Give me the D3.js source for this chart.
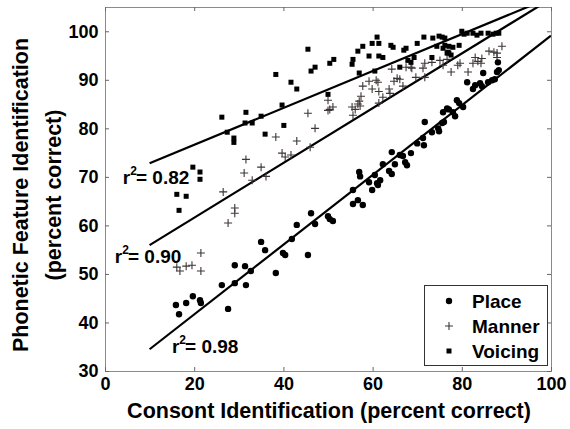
<!DOCTYPE html>
<html>
<head>
<meta charset="utf-8">
<script src="https://cdn.jsdelivr.net/npm/d3@7"></script>
<style>
  body { margin: 0; background: #fff; }
  svg { font-family: "Liberation Sans", Arial, sans-serif; font-weight: bold; }
</style>
</head>
<body>
<div id="chart"></div>
<script>
"use strict";

// Place (filled circles)
const placeX = [15.9, 16.6, 18.2, 19.7, 21.3, 21.5, 27.6, 26.2, 29.1, 29.1, 31.6, 31.4, 32.7, 35.0, 35.9, 38.3,
    39.9, 40.4, 41.9, 43.0, 45.5, 46.2, 47.1, 50.0, 50.4, 51.1, 55.6, 56.7, 57.8, 55.6, 57.0, 57.2, 59.2, 59.9,
    60.5, 61.2, 61.7, 61.0, 62.3, 63.7, 64.3, 65.0, 64.3, 66.1, 66.8, 67.3, 67.7, 68.6, 70.0, 71.3, 71.5, 71.7,
    73.3, 74.7, 74.9, 75.6, 76.0, 75.8, 76.7, 77.1, 78.0, 78.5, 78.9, 79.4, 80.3, 81.2, 82.5, 83.0, 84.1, 84.5,
    84.8, 85.9, 86.8, 87.4, 87.9, 88.3, 88.1];
const placeY = [43.6, 41.7, 44.0, 45.4, 44.6, 44.0, 42.8, 47.7, 48.1, 51.8, 47.7, 51.6, 50.6, 56.6, 54.9, 50.2,
    54.3, 53.9, 57.2, 60.1, 53.9, 62.5, 60.3, 61.9, 61.3, 60.9, 64.4, 65.2, 64.2, 67.3, 71.0, 70.1, 68.9, 67.3,
    70.4, 68.3, 69.3, 68.7, 72.6, 71.2, 70.6, 72.6, 75.1, 74.5, 74.3, 73.0, 72.4, 74.9, 76.9, 78.0, 76.5, 81.3,
    79.2, 80.0, 79.4, 81.1, 81.3, 83.3, 84.1, 83.9, 83.3, 82.5, 85.8, 85.2, 84.4, 89.5, 88.1, 88.9, 89.3, 88.7,
    91.4, 89.5, 89.9, 90.1, 91.6, 92.0, 93.6];

// Manner (plus signs)
const mannerX = [16.1, 16.8, 18.2, 19.5, 21.5, 21.5, 27.6, 29.1, 29.1, 26.5, 31.6, 31.2, 35.0, 33.0, 36.1, 38.3,
    39.7, 40.4, 41.7, 43.0, 46.0, 45.5, 47.1, 50.0, 50.4, 51.1, 50.0, 55.4, 55.6, 56.1, 56.7, 57.2, 57.0, 57.4,
    57.8, 59.2, 60.8, 61.2, 59.9, 61.4, 62.3, 61.4, 63.7, 63.9, 64.3, 64.8, 65.5, 66.1, 66.8, 67.5, 68.6, 69.7,
    68.8, 71.3, 71.7, 73.3, 71.7, 75.1, 76.7, 75.8, 77.6, 79.6, 79.1, 81.4, 82.5, 84.3, 83.0, 84.5, 83.6, 86.1,
    87.2, 87.9, 89.0, 87.9];
const mannerY = [51.4, 50.6, 51.6, 51.8, 50.6, 54.3, 60.5, 62.5, 63.6, 66.9, 73.6, 70.8, 72.0, 69.3, 70.1, 78.2,
    74.9, 74.1, 74.5, 77.4, 76.1, 83.1, 80.0, 85.8, 83.9, 84.4, 83.7, 84.4, 82.7, 83.9, 85.0, 84.6, 85.6, 86.6,
    88.7, 89.7, 89.9, 89.5, 88.1, 87.6, 86.4, 85.2, 88.1, 87.2, 92.2, 89.7, 90.3, 90.1, 88.7, 92.6, 92.6, 90.5,
    92.4, 92.4, 93.4, 93.6, 90.5, 94.0, 94.2, 93.0, 91.6, 93.4, 93.0, 91.6, 93.4, 93.4, 94.6, 94.4, 93.8, 95.9,
    95.7, 95.5, 96.9, 94.6];

// Voicing (filled squares)
const voicingX = [16.1, 18.2, 16.6, 19.7, 21.3, 21.3, 26.2, 27.4, 28.9, 28.9, 31.6, 31.4, 33.0, 35.0, 35.9, 39.7,
    40.1, 38.3, 41.7, 43.0, 45.5, 46.2, 47.1, 50.4, 51.3, 50.0, 55.4, 55.6, 56.7, 57.0, 57.8, 59.2, 59.9, 61.4,
    61.0, 61.4, 62.3, 64.1, 64.6, 60.5, 66.1, 67.5, 67.0, 70.0, 68.6, 67.9, 71.5, 73.5, 74.9, 75.6, 76.2, 74.4,
    76.2, 77.1, 78.0, 79.4, 75.8, 76.7, 77.1, 77.6, 73.3, 69.3, 80.0, 80.5, 81.2, 82.5, 83.4, 84.3, 85.9, 87.0,
    87.7, 88.3, 76.9];
const voicingY = [66.4, 66.0, 63.1, 72.0, 71.0, 69.5, 82.3, 79.2, 78.0, 77.1, 83.3, 81.1, 81.1, 82.5, 78.8, 84.8,
    80.6, 91.1, 89.5, 88.1, 96.3, 91.8, 92.6, 93.4, 94.2, 87.0, 93.2, 94.2, 95.9, 91.4, 96.9, 94.9, 97.5, 97.5,
    98.8, 94.9, 94.6, 97.1, 96.7, 91.8, 92.6, 96.5, 96.1, 97.5, 93.6, 94.0, 98.8, 98.6, 99.0, 98.8, 98.6, 96.9,
    97.1, 96.9, 96.7, 97.1, 96.5, 95.5, 95.5, 95.1, 94.6, 94.6, 100.0, 99.4, 99.6, 99.6, 99.2, 99.6, 99.6, 99.4,
    99.6, 99.6, 95.7];

// regression lines: voicing, manner, place
const fitNames = ["Voicing", "Manner", "Place"];
const fitSlopes = [0.38, 0.564, 0.718];
const fitIntercepts = [69.0, 50.3, 27.3];
const fitLabels = ["0.82", "0.90", "0.98"];

const xTicks = [0, 20, 40, 60, 80, 100];
const yTicks = [30, 40, 50, 60, 70, 80, 90, 100];

const margin = {top: 7, right: 19, bottom: 58, left: 105};
const width = 570;
const height = 429;
const plotW = width - margin.left - margin.right;
const plotH = height - margin.top - margin.bottom;

const svg = d3.select("#chart").append("svg")
    .attr("width", width)
    .attr("height", height);

const x = d3.scaleLinear().domain([0, 100]).range([0, plotW]);
const y = d3.scaleLinear().domain([30, 105]).range([plotH, 0]);

const g = svg.append("g")
    .attr("transform", "translate(" + margin.left + "," + margin.top + ")");

svg.append("defs").append("clipPath")
    .attr("id", "plot-clip")
    .append("rect")
    .attr("width", plotW)
    .attr("height", plotH);

// frame
g.append("rect")
    .attr("x", 0.5)
    .attr("y", 0.5)
    .attr("width", plotW)
    .attr("height", plotH)
    .attr("fill", "none")
    .attr("stroke", "#8a8a8a")
    .attr("stroke-width", 1);

// axes with inward ticks
const xAxis = d3.axisBottom(x).tickValues(xTicks).tickSizeInner(-4).tickSizeOuter(0).tickPadding(8);
const yAxis = d3.axisLeft(y).tickValues(yTicks).tickSizeInner(-4).tickSizeOuter(0).tickPadding(6);

const gx = g.append("g")
    .attr("class", "x axis")
    .attr("transform", "translate(0," + plotH + ")")
    .call(xAxis);
const gy = g.append("g")
    .attr("class", "y axis")
    .call(yAxis);
g.append("g").call(d3.axisTop(x).tickValues(xTicks).tickSizeInner(-4).tickSizeOuter(0).tickFormat(""));
g.append("g").attr("transform", "translate(" + plotW + ",0)")
    .call(d3.axisRight(y).tickValues(yTicks).tickSizeInner(-4).tickSizeOuter(0).tickFormat(""));

g.selectAll(".domain").remove();
g.selectAll(".tick line").attr("stroke", "#666");
[gx, gy].forEach(function (a) {
    a.selectAll("text")
        .attr("font-family", "'Liberation Sans', Arial, sans-serif")
        .attr("font-weight", "bold")
        .attr("font-size", 18)
        .attr("fill", "#000");
});
gx.selectAll("text").attr("dy", "0.6em");
gy.selectAll("text").attr("dx", "-0.02em");

// regression lines
const fitG = g.append("g").attr("clip-path", "url(#plot-clip)");
fitSlopes.forEach(function (s, i) {
    const b = fitIntercepts[i];
    fitG.append("line")
        .attr("x1", x(10)).attr("y1", y(b + s * 10))
        .attr("x2", x(100)).attr("y2", y(b + s * 100))
        .attr("stroke", "#000")
        .attr("stroke-width", 2.2);
});

// data points
const placeData = placeX.map(function (v, i) { return [v, placeY[i]]; });
const mannerData = mannerX.map(function (v, i) { return [v, mannerY[i]]; });
const voicingData = voicingX.map(function (v, i) { return [v, voicingY[i]]; });

function plusPath(px, py, r) {
    return "M" + (px - r) + "," + py + "H" + (px + r) + "M" + px + "," + (py - r) + "V" + (py + r);
}

g.append("g").selectAll("path")
    .data(mannerData)
    .enter().append("path")
    .attr("d", function (d) { return plusPath(x(d[0]), y(d[1]), 4); })
    .attr("stroke", "#3e3636")
    .attr("stroke-width", 1.1);

g.append("g").selectAll("circle")
    .data(placeData)
    .enter().append("circle")
    .attr("cx", function (d) { return x(d[0]); })
    .attr("cy", function (d) { return y(d[1]); })
    .attr("r", 3.2)
    .attr("fill", "#000");

g.append("g").selectAll("rect")
    .data(voicingData)
    .enter().append("rect")
    .attr("x", function (d) { return x(d[0]) - 2.5; })
    .attr("y", function (d) { return y(d[1]) - 2.5; })
    .attr("width", 5)
    .attr("height", 5)
    .attr("fill", "#000");

// r^2 annotations (positions in data units)
const labelPos = [[4.0, 68.5], [2.2, 52.3], [15.0, 33.7]];
labelPos.forEach(function (p, i) {
    const t = g.append("text")
        .attr("x", x(p[0]))
        .attr("y", y(p[1]))
        .attr("font-size", 19)
        .attr("fill", "#000");
    t.append("tspan").text("r");
    t.append("tspan").attr("font-size", 12).attr("dy", "-0.75em").text("2");
    t.append("tspan").attr("dy", "0.47em").attr("dx", "-0.05em").text("= " + fitLabels[i]);
});

// legend
const legend = g.append("g").attr("transform", "translate(" + (424 - margin.left) + "," + (285 - margin.top) + ")");
legend.append("rect")
    .attr("x", 0.5)
    .attr("y", 0.5)
    .attr("width", 123)
    .attr("height", 80)
    .attr("fill", "#fff")
    .attr("stroke", "#333")
    .attr("stroke-width", 1);
const legendNames = ["Place", "Manner", "Voicing"];
legendNames.forEach(function (name, i) {
    const ly = 16 + i * 25;
    if (i === 0) {
        legend.append("circle").attr("cx", 25).attr("cy", ly).attr("r", 3.2).attr("fill", "#000");
    } else if (i === 1) {
        legend.append("path")
            .attr("d", plusPath(25, ly, 4))
            .attr("stroke", "#3e3636")
            .attr("stroke-width", 1.1);
    } else {
        legend.append("rect").attr("x", 22.5).attr("y", ly - 2.5).attr("width", 5).attr("height", 5).attr("fill", "#000");
    }
    legend.append("text")
        .attr("x", 48)
        .attr("y", ly + 7)
        .attr("font-size", 19)
        .text(name);
});

// axis titles
svg.append("text")
    .attr("x", 329)
    .attr("y", 418)
    .attr("text-anchor", "middle")
    .attr("font-size", 21.5)
    .text("Consont Identification (percent correct)");

svg.append("text")
    .attr("transform", "translate(28,195) rotate(-90)")
    .attr("text-anchor", "middle")
    .attr("font-size", 21.5)
    .text("Phonetic Feature Identification");
svg.append("text")
    .attr("transform", "translate(61,195) rotate(-90)")
    .attr("text-anchor", "middle")
    .attr("font-size", 21.5)
    .text("(percent correct)");
</script>
</body>
</html>
